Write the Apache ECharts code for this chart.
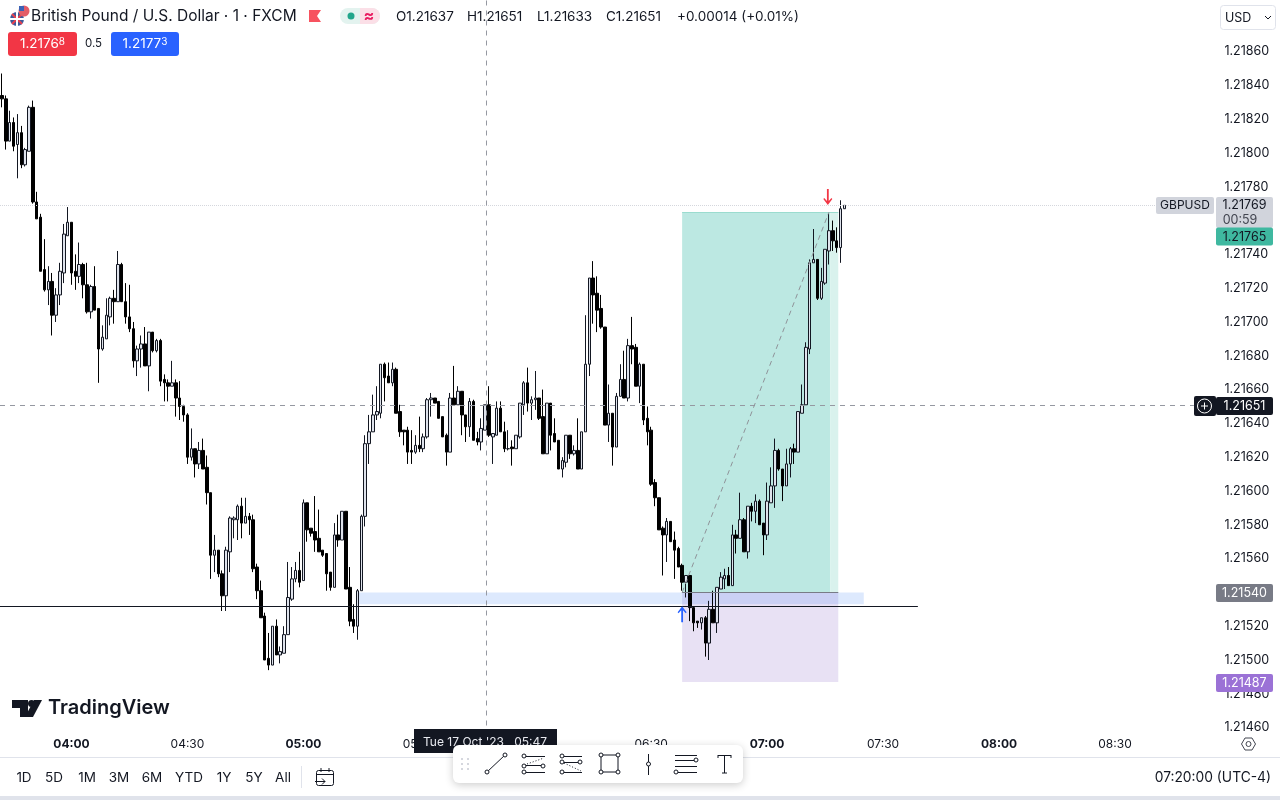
<!DOCTYPE html>
<html>
<head>
<meta charset="utf-8">
<title>GBPUSD 1m</title>
<script src="https://cdn.jsdelivr.net/npm/echarts@6/dist/echarts.min.js"></script>
<style>
html, body { margin: 0; padding: 0; background: #fff; }
#main { width: 1280px; height: 800px; }
</style>
</head>
<body>
<div id="main"></div>
<script>
// prices are pipettes above 1.21000, one candle per minute from 03:42
var priceBase = 1.21;
var opens = [834,832,807,818,805,812,793,801,827,771,
762,731,719,724,704,716,729,751,759,730,
727,734,722,706,721,708,684,690,703,714,
712,734,712,703,696,677,684,687,674,694,
683,689,666,664,662,664,655,650,645,620,
625,616,624,614,599,562,565,551,538,564,
583,583,591,581,585,583,555,541,526,501,
497,520,503,504,515,536,548,553,547,593,
578,576,572,565,563,552,543,574,571,588,
543,524,520,541,585,628,635,645,646,675,
668,664,672,647,636,636,624,623,627,625,
632,654,655,653,644,633,623,655,651,659,
645,638,653,631,629,636,651,632,633,649,
635,625,626,625,632,651,664,652,654,655,
644,622,652,634,630,613,617,633,622,624,
613,635,675,726,717,708,697,639,646,626,
656,666,655,686,685,662,675,643,636,605,
596,578,574,582,571,566,556,546,550,531,
523,522,525,510,530,522,542,548,550,544,
574,572,583,564,591,588,594,581,574,593,
603,624,613,603,616,625,623,646,651,684,
735,737,714,723,742,754,748,744,767];
var closes = [832,807,818,804,812,793,802,827,771,761,
730,719,724,704,716,730,752,759,729,727,
734,722,706,721,707,684,691,704,714,712,
734,712,703,696,677,684,687,674,694,683,
689,665,664,662,664,655,650,645,620,625,
616,624,613,599,562,565,551,538,565,584,
584,591,581,585,583,554,541,525,500,497,
520,503,505,515,537,548,553,546,593,577,
575,571,564,562,551,543,574,571,588,542,
523,520,541,585,628,635,645,647,675,667,
664,672,646,635,635,623,623,627,625,632,
654,655,652,643,632,623,655,651,659,645,
638,653,630,629,637,651,633,634,649,635,
625,625,625,633,652,664,652,654,655,643,
622,652,633,629,613,618,633,622,624,613,
635,675,726,716,707,697,639,646,626,656,
666,655,686,684,662,675,642,635,604,596,
577,574,582,570,565,555,546,550,531,522,
522,525,510,530,522,543,549,550,544,574,
572,583,564,591,588,594,580,574,594,603,
624,613,603,616,625,623,647,651,685,735,
737,714,724,743,754,748,744,767,769];
var highs = [847,834,825,821,823,816,803,828,831,777,
764,749,733,729,720,735,758,768,759,740,
747,735,735,722,733,708,698,714,715,719,
742,735,723,722,700,686,692,697,694,694,
690,690,669,666,677,666,665,651,646,637,
625,629,631,621,599,574,565,553,567,585,
585,592,596,596,587,586,557,547,528,516,
520,524,508,520,558,555,558,564,595,593,
578,597,589,565,563,552,581,586,588,588,
555,533,542,586,633,645,657,662,675,676,
676,676,673,651,636,638,636,633,644,634,
655,658,655,653,644,634,658,674,662,659,
645,655,654,635,643,651,662,634,653,653,
641,636,630,633,652,665,673,656,671,655,
660,652,652,643,630,620,633,633,627,643,
635,704,726,736,727,716,697,663,646,658,
675,683,690,703,687,676,675,650,638,607,
596,579,584,582,576,567,557,550,550,531,
523,525,526,535,541,543,552,554,555,580,
577,599,584,591,593,598,595,581,605,614,
631,625,613,625,626,628,647,663,688,737,
755,737,732,743,765,760,756,772,769];
var lows = [827,802,807,801,785,791,792,801,770,761,
730,718,710,692,700,710,723,751,722,719,
723,714,705,702,707,664,683,690,698,699,
712,712,699,694,673,668,673,674,659,682,
682,662,653,653,662,644,642,641,616,618,
608,613,613,592,548,552,549,529,529,552,
572,571,572,581,574,552,536,525,500,494,
497,503,498,504,515,535,546,543,547,570,
573,564,564,561,541,541,543,567,571,542,
520,516,512,541,579,616,635,642,643,653,
664,662,646,632,627,616,616,622,623,623,
631,644,652,643,632,615,623,651,651,633,
629,632,630,627,624,636,632,616,633,635,
623,624,615,625,631,645,647,642,648,642,
622,622,624,629,613,608,614,619,621,613,
613,635,668,699,694,696,639,629,615,626,
656,655,653,675,662,652,639,627,603,591,
577,550,558,570,548,555,541,537,523,517,
519,518,502,500,522,516,542,542,544,544,
563,572,564,560,582,581,580,562,571,593,
590,612,594,603,608,616,623,646,651,681,
735,713,713,722,734,742,741,735,767];

var priceTicks = [1.2146,1.2148,1.215,1.2152,1.2156,1.2158,1.216,1.2162,1.2164,1.2166,1.2168,1.217,1.2172,1.2174,1.2178,1.218,1.2182,1.2184,1.2186];
var boldTimes = ['04:00','05:00','07:00','08:00'];
var thinTimes = ['04:30','05:30','06:30','07:30','08:30'];
var ranges = ['1D','5D','1M','3M','6M','YTD','1Y','5Y','All'];
var rangeX = [24,54,87,119,152,189,224,254,283];
var ohlcText = ['O1.21637','H1.21651','L1.21633','C1.21651','+0.00014 (+0.01%)'];
var ohlcX = [396,467,537,606,677];

// position tool levels
var lastPrice = 1.21769, crossPrice = 1.21651, targetPrice = 1.21765, entryPrice = 1.2154, stopPrice = 1.21487;
var hLinePrice = 1.21532, zoneLow = 1.21533;

var slots = 315;
var categories = [];
for (var i = 0; i < slots; i++) {
    var m = 3 * 60 + 42 + i;
    categories.push(('0' + Math.floor(m / 60)).slice(-2) + ':' + ('0' + (m % 60)).slice(-2));
}
function price(v) { return +(priceBase + v / 100000).toFixed(5); }
var candles = opens.map(function (o, i) {
    return [price(o), price(closes[i]), price(lows[i]), price(highs[i])];
});

var yMax = 1.218902, yMin = 1.214577;
var F = 'Inter, "Noto Sans", sans-serif';
var dark = '#131722';

function hline(p, from, to, color, type, width) {
    return [{ coord: [from, p], lineStyle: { color: color, type: type, width: width || 1 } }, { coord: [to, p] }];
}

var option = {
    animation: false,
    backgroundColor: '#fff',
    grid: { left: -0.6, top: 0.5, width: 1218, height: 731 },
    xAxis: [{
        type: 'category',
        data: categories,
        boundaryGap: true,
        axisLine: { show: false },
        axisTick: { show: false },
        axisLabel: {
            margin: 7,
            interval: function (idx, val) { return boldTimes.indexOf(val) > -1 || thinTimes.indexOf(val) > -1; },
            formatter: function (val) { return boldTimes.indexOf(val) > -1 ? '{b|' + val + '}' : '{n|' + val + '}'; },
            rich: {
                b: { fontFamily: F, fontSize: 12, fontWeight: 700, color: dark },
                n: { fontFamily: F, fontSize: 12, color: dark }
            }
        }
    }, {
        // same slots as a number line, so drawings can sit between candles
        type: 'value',
        show: false,
        min: -0.5,
        max: slots - 0.5,
        splitLine: { show: false }
    }],
    yAxis: {
        type: 'value',
        position: 'right',
        min: yMin,
        max: yMax,
        scale: true,
        splitLine: { show: false },
        axisLine: { show: false },
        axisTick: { show: false },
        axisLabel: {
            margin: 7,
            padding: [2, 0, 0, 0],
            customValues: priceTicks,
            color: dark,
            fontFamily: F,
            fontSize: 12.5,
            formatter: function (v) { return v.toFixed(5); }
        }
    },
    series: [
        {
            name: 'boxes',
            type: 'line',
            xAxisIndex: 1,
            z: 1,
            data: [],
            silent: true,
            markArea: {
                silent: true,
                data: [
                    [{ coord: [176, targetPrice], itemStyle: { color: '#bce8e2' } }, { coord: [214.3, entryPrice] }],
                    [{ coord: [214.3, targetPrice], itemStyle: { color: '#d9f2ed' } }, { coord: [216.4, entryPrice] }],
                    [{ coord: [176, entryPrice], itemStyle: { color: 'rgba(149,117,205,0.22)' } }, { coord: [216.4, stopPrice] }],
                    [{ coord: [92.2, entryPrice], itemStyle: { color: 'rgba(66,133,244,0.18)' } }, { coord: [223, zoneLow] }]
                ]
            }
        },
        {
            name: 'GBPUSD',
            type: 'candlestick',
            z: 3,
            barWidth: 3,
            data: candles,
            itemStyle: {
                color: '#dfe3ec',
                color0: '#000000',
                borderColor: dark,
                borderColor0: '#000000',
                borderWidth: 1
            }
        },
        {
            name: 'lines',
            type: 'line',
            xAxisIndex: 1,
            z: 4,
            data: [],
            silent: true,
            markLine: {
                silent: true,
                symbol: 'none',
                label: { show: false },
                data: [
                    hline(lastPrice, -0.5, 298.6, '#d5d7dd', 'dotted'),
                    hline(crossPrice, -0.5, 308.4, '#9598a1', [5, 5]),
                    hline(hLinePrice, -0.5, 237, dark, 'solid'),
                    hline(entryPrice, 176, 216.4, '#787b86', 'solid'),
                    hline(targetPrice, 176, 216.4, '#9adccf', 'solid'),
                    [{ coord: [125.3, yMax], lineStyle: { color: '#9598a1', type: [5, 5], width: 1 } }, { coord: [125.3, yMin] }],
                    [{ coord: [176, entryPrice], lineStyle: { color: '#8f9399', type: [5, 4], width: 1 } }, { coord: [214, targetPrice] }]
                ]
            },
            markPoint: {
                silent: true,
                symbol: 'path://M4 0 L4 12 L1 9 L0 10 L5 16 L10 10 L9 9 L6 12 L6 0 Z',
                symbolSize: [9, 16],
                label: { show: false },
                data: [
                    { coord: [213.7, 1.21774], itemStyle: { color: '#f23645' } },
                    { coord: [176, 1.21527], symbolRotate: 180, itemStyle: { color: '#2962ff' } }
                ]
            }
        }
    ]
};

var chart = echarts.init(document.getElementById('main'));
chart.setOption(option);

function py(p) { return chart.convertToPixel({ yAxisIndex: 0 }, p); }

// chrome helpers
function txt(x, y, s, o) {
    o = o || {};
    return { type: 'text', z: o.z || 50, silent: true, style: {
        x: x, y: y, text: s, fill: o.fill || dark, textAlign: o.align || 'left', textVerticalAlign: 'middle',
        font: (o.weight || '400') + ' ' + (o.size || 13) + 'px ' + F, rich: o.rich
    } };
}
function box(x, y, w, h, fill, r, o) {
    o = o || {};
    return { type: 'rect', z: o.z || 40, silent: true, shape: { x: x, y: y, width: w, height: h, r: r || 0 }, style: {
        fill: fill, stroke: o.stroke, lineWidth: o.lineWidth || 1, shadowBlur: o.blur || 0, shadowColor: o.shadow, shadowOffsetY: o.off || 0
    } };
}
function seg(x1, y1, x2, y2, color, o) {
    o = o || {};
    return { type: 'line', z: o.z || 60, silent: true, shape: { x1: x1, y1: y1, x2: x2, y2: y2 }, style: { stroke: color || dark, lineWidth: o.w || 1, lineDash: o.dash } };
}
function dot(x, y, r, fill, stroke, z) {
    return { type: 'circle', z: z || 60, silent: true, shape: { cx: x, cy: y, r: r }, style: { fill: fill, stroke: stroke, lineWidth: 1 } };
}
function poly(pts, fill, z) {
    return { type: 'polygon', z: z || 60, silent: true, shape: { points: pts }, style: { fill: fill } };
}
function tagAt(y, fill, color, s) {
    return [box(1216, y - 9, 57, 18, fill, 2), txt(1244.5, y + 0.5, s, { fill: color, align: 'center', size: 12.5 })];
}
function tag(p, fill, color, s) { return tagAt(Math.round(py(p)) + 1, fill, color, s); }

var g = [];
// legend row
g.push(dot(17, 19, 7, '#3b5a9a', null, 45), seg(12, 14, 22, 24, '#e8404f', { w: 2, z: 46 }), seg(22, 14, 12, 24, '#e8404f', { w: 2, z: 46 }), seg(10, 19, 24, 19, '#fff', { w: 2, z: 46 }), seg(17, 12, 17, 26, '#fff', { w: 2, z: 46 }));
g.push(dot(24, 11, 5.5, '#e35d68', null, 47), box(19, 6, 5, 5, '#3b62b5', 0, { z: 48 }));
g.push(txt(31, 16.5, 'British Pound / U.S. Dollar · 1 · FXCM', { size: 15.5 }));
g.push(poly([[309, 10], [321, 10], [317, 16], [321, 22], [309, 22]], '#f7525f'));
g.push(box(340, 8, 40, 16, '#e3f3ef', 8), box(360, 8, 20, 16, '#fbdfe7', 8), box(360, 8, 8, 16, '#fbdfe7', 0, { z: 41 }));
g.push(dot(351, 16, 3.5, '#22a68b'), txt(369, 16, '≈', { fill: '#e91e63', align: 'center', size: 16, weight: '700' }));
ohlcText.forEach(function (s, i) { g.push(txt(ohlcX[i], 16.5, s, { size: 13.5 })); });
// bid / ask
g.push(box(8, 32, 69, 24, '#f23645', 3), txt(42.5, 44, '{a|1.2176}{s|8}', { fill: '#fff', align: 'center', rich: { a: { fill: '#fff', fontSize: 13.5, fontFamily: F }, s: { fill: '#fff', fontSize: 10, fontFamily: F, padding: [0, 0, 4, 0] } } }));
g.push(txt(93.5, 44, '0.5', { size: 11.5, align: 'center' }));
g.push(box(111, 32, 68, 24, '#2962ff', 3), txt(145, 44, '{a|1.2177}{s|3}', { fill: '#fff', align: 'center', rich: { a: { fill: '#fff', fontSize: 13.5, fontFamily: F }, s: { fill: '#fff', fontSize: 10, fontFamily: F, padding: [0, 0, 4, 0] } } }));
// USD button
g.push(box(1220.5, 5.5, 55, 24, '#fff', 3, { stroke: '#e0e3eb' }), txt(1225, 18, 'USD', { size: 12.5 }));
g.push(seg(1265, 16, 1268, 19, dark), seg(1268, 19, 1271, 16, dark));
// price tags
var ly = Math.round(py(lastPrice));
g.push(box(1156, ly - 8, 58, 17, '#d1d4dc', 2), txt(1185, ly + 0.5, 'GBPUSD', { align: 'center', size: 12 }));
g.push(box(1216, ly - 8, 57, 31, '#d1d4dc', 2), txt(1244.5, ly + 0.5, '1.21769', { align: 'center', size: 12.5 }), txt(1240, ly + 15, '00:59', { align: 'center', size: 12.5, fill: '#434651' }));
// the target tag is pushed down below the last price tag
g = g.concat(tagAt(ly + 31.5, '#3fb8a0', dark, '1.21765'));
var cy = Math.round(py(crossPrice)) + 1;
g = g.concat(tagAt(cy, dark, '#fff', '1.21651'));
g.push(box(1194, cy - 10, 22, 20, dark, 2), dot(1204.5, cy, 7, 'none', '#fff'), seg(1201, cy, 1208, cy, '#fff'), seg(1204.5, cy - 3.5, 1204.5, cy + 3.5, '#fff'));
g = g.concat(tag(entryPrice, '#787b86', '#fff', '1.21540'));
g = g.concat(tag(stopPrice, '#9b72d6', '#fff', '1.21487'));
// TradingView mark
g.push(poly([[12, 700], [28, 700], [28, 717], [20, 717], [20, 708], [12, 708]], dark), dot(31.5, 703.5, 3.5, dark), poly([[34, 700], [42, 700], [33, 717], [25, 717]], dark));
g.push(txt(48, 708, 'TradingView', { size: 20, weight: '600' }));
// time axis strip and bottom bar
g.push(box(1216, 733, 64, 22, '#fff', 0, { z: 35 }));
g.push(poly([[1245, 738], [1252, 738], [1255.5, 744], [1252, 750], [1245, 750], [1241.5, 744]], 'none'));
g.push({ type: 'polygon', z: 60, silent: true, shape: { points: [[1245, 738], [1252, 738], [1255.5, 744], [1252, 750], [1245, 750], [1241.5, 744]] }, style: { fill: 'none', stroke: '#434651', lineWidth: 1 } });
g.push(dot(1248.5, 744, 2.5, 'none', '#434651'));
g.push(seg(0, 757.5, 1280, 757.5, '#e0e3eb', { z: 30 }));
g.push(box(0, 796, 1280, 4, '#e0e3eb', 0, { z: 30 }));
ranges.forEach(function (r, i) { g.push(txt(rangeX[i], 778, r, { align: 'center', size: 13.5 })); });
g.push(seg(301.5, 766, 301.5, 788, '#e0e3eb'));
g.push(box(316.5, 770.5, 17, 15, 'none', 2, { stroke: dark, z: 60 }), seg(316, 774.5, 334, 774.5, dark), seg(321, 768, 321, 772, dark), seg(329, 768, 329, 772, dark));
g.push(seg(315, 781.5, 325, 781.5, dark, { z: 61 }), seg(322, 778.5, 325, 781.5, dark, { z: 61 }), seg(322, 784.5, 325, 781.5, dark, { z: 61 }));
g.push(txt(1271, 778, '07:20:00 (UTC-4)', { align: 'right', size: 13.8 }));
// crosshair time label
g.push(box(414, 729, 143, 24, dark, 0, { z: 70 }), txt(423, 742, "Tue 17 Oct '23   05:47", { fill: '#e8eaf0', size: 12, z: 71 }));
// drawing toolbar
var Z = 80;
g.push(box(453, 745, 290, 38, '#fff', 6, { z: Z, blur: 8, shadow: 'rgba(0,0,0,0.2)', off: 2 }));
[462, 468].forEach(function (x) { [759, 764, 769].forEach(function (y) { g.push(dot(x, y, 1, '#c7cad3', null, Z + 1)); }); });
function ring(x, y) { return dot(x, y, 2, '#fff', dark, Z + 3); }
function bar(x1, y, x2) { return seg(x1, y + 0.5, x2, y + 0.5, dark, { z: Z + 2 }); }
g.push(seg(487, 772, 505, 755, dark, { z: Z + 2 }), ring(487, 772), ring(505, 755));
g.push(bar(524, 756, 545), bar(524, 765, 543), bar(524, 772, 545), ring(524, 756), ring(524, 766), ring(524, 772), ring(543, 766));
g.push(seg(527, 764, 544, 758, dark, { z: Z + 2, dash: [1, 2] }));
g.push(bar(562, 756, 582), bar(562, 762, 580), bar(562, 772, 582), ring(562, 756), ring(562, 762), ring(562, 772), ring(580, 762));
g.push(seg(564, 763, 581, 771, dark, { z: Z + 2, dash: [1, 2] }));
g.push(box(601, 755, 17, 17, 'none', 0, { stroke: dark, z: Z + 2 }), ring(601, 755), ring(618, 755), ring(601, 772), ring(618, 772));
g.push(seg(648.5, 754, 648.5, 775, dark, { z: Z + 2 }), ring(648.5, 764));
g.push(bar(675, 755, 697), bar(675, 760, 695), bar(675, 766, 697), bar(678, 772, 697), ring(696, 760), ring(676, 772));
g.push(seg(718, 755.5, 731, 755.5, dark, { z: Z + 2 }), seg(724.5, 755, 724.5, 773, dark, { z: Z + 2 }), seg(722, 773, 727, 773, dark, { z: Z + 2 }), seg(718, 755, 718, 758, dark, { z: Z + 2 }), seg(731, 755, 731, 758, dark, { z: Z + 2 }));

chart.setOption({ graphic: { elements: g } });
</script>
</body>
</html>
